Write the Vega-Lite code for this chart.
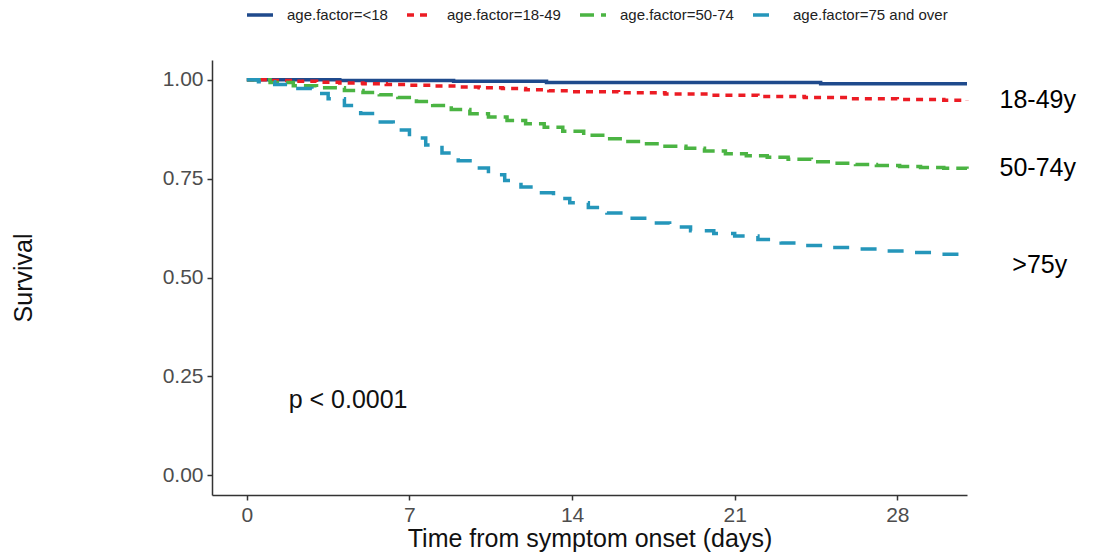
{
  "$schema": "https://vega.github.io/schema/vega-lite/v6.json",
  "width": 755,
  "height": 435,
  "autosize": {"type": "none"},
  "padding": {"left": 212, "top": 60, "right": 140, "bottom": 57},
  "background": "white",
  "config": {
    "view": {"stroke": null},
    "font": "Liberation Sans",
    "axis": {
      "grid": false,
      "domainColor": "#333333",
      "domainWidth": 1.5,
      "tickColor": "#333333",
      "tickWidth": 1.5,
      "tickSize": 5,
      "labelFont": "Liberation Sans",
      "labelFontSize": 21,
      "labelColor": "#4d4d4d",
      "labelPadding": 4,
      "titleFont": "Liberation Sans",
      "titleFontSize": 25,
      "titleFontWeight": "normal",
      "titleColor": "#111111"
    },
    "legend": {
      "orient": "none",
      "legendX": 33,
      "legendY": -60,
      "direction": "horizontal",
      "symbolType": "stroke",
      "symbolSize": 676,
      "symbolStrokeWidth": 3.5,
      "labelFont": "Liberation Sans",
      "labelFontSize": 15,
      "labelColor": "#222222",
      "labelOffset": 12,
      "columnPadding": 12
    }
  },
  "datasets": {
    "curves": [
      {"group": "age.factor=<18", "time": 0, "surv": 1.0},
      {"group": "age.factor=<18", "time": 4.0, "surv": 0.998},
      {"group": "age.factor=<18", "time": 8.9, "surv": 0.996},
      {"group": "age.factor=<18", "time": 12.9, "surv": 0.993},
      {"group": "age.factor=<18", "time": 24.7, "surv": 0.99},
      {"group": "age.factor=<18", "time": 31, "surv": 0.99},

      {"group": "age.factor=18-49", "time": 0, "surv": 1.0},
      {"group": "age.factor=18-49", "time": 1, "surv": 0.998},
      {"group": "age.factor=18-49", "time": 2, "surv": 0.996},
      {"group": "age.factor=18-49", "time": 3, "surv": 0.994},
      {"group": "age.factor=18-49", "time": 4, "surv": 0.992},
      {"group": "age.factor=18-49", "time": 5, "surv": 0.99},
      {"group": "age.factor=18-49", "time": 6, "surv": 0.988},
      {"group": "age.factor=18-49", "time": 7, "surv": 0.986},
      {"group": "age.factor=18-49", "time": 8, "surv": 0.984},
      {"group": "age.factor=18-49", "time": 9, "surv": 0.982},
      {"group": "age.factor=18-49", "time": 10, "surv": 0.98},
      {"group": "age.factor=18-49", "time": 11, "surv": 0.978},
      {"group": "age.factor=18-49", "time": 12, "surv": 0.975},
      {"group": "age.factor=18-49", "time": 13, "surv": 0.972},
      {"group": "age.factor=18-49", "time": 14, "surv": 0.97},
      {"group": "age.factor=18-49", "time": 16, "surv": 0.967},
      {"group": "age.factor=18-49", "time": 18, "surv": 0.964},
      {"group": "age.factor=18-49", "time": 20, "surv": 0.961},
      {"group": "age.factor=18-49", "time": 22, "surv": 0.958},
      {"group": "age.factor=18-49", "time": 24, "surv": 0.955},
      {"group": "age.factor=18-49", "time": 26, "surv": 0.952},
      {"group": "age.factor=18-49", "time": 28, "surv": 0.95},
      {"group": "age.factor=18-49", "time": 30, "surv": 0.948},
      {"group": "age.factor=18-49", "time": 31, "surv": 0.947},

      {"group": "age.factor=50-74", "time": 0, "surv": 1.0},
      {"group": "age.factor=50-74", "time": 1.0, "surv": 0.993},
      {"group": "age.factor=50-74", "time": 2.0, "surv": 0.985},
      {"group": "age.factor=50-74", "time": 3.0, "surv": 0.98},
      {"group": "age.factor=50-74", "time": 4.2, "surv": 0.973},
      {"group": "age.factor=50-74", "time": 5.0, "surv": 0.968},
      {"group": "age.factor=50-74", "time": 5.7, "surv": 0.962},
      {"group": "age.factor=50-74", "time": 6.5, "surv": 0.955},
      {"group": "age.factor=50-74", "time": 7.3, "surv": 0.945},
      {"group": "age.factor=50-74", "time": 8.0, "surv": 0.935},
      {"group": "age.factor=50-74", "time": 8.8, "surv": 0.925},
      {"group": "age.factor=50-74", "time": 9.6, "surv": 0.914},
      {"group": "age.factor=50-74", "time": 10.4, "surv": 0.906},
      {"group": "age.factor=50-74", "time": 11.2, "surv": 0.897},
      {"group": "age.factor=50-74", "time": 12.0, "surv": 0.889},
      {"group": "age.factor=50-74", "time": 12.8, "surv": 0.88},
      {"group": "age.factor=50-74", "time": 13.6, "surv": 0.87},
      {"group": "age.factor=50-74", "time": 14.5, "surv": 0.86},
      {"group": "age.factor=50-74", "time": 15.4, "surv": 0.851},
      {"group": "age.factor=50-74", "time": 16.2, "surv": 0.844},
      {"group": "age.factor=50-74", "time": 17.1, "surv": 0.838},
      {"group": "age.factor=50-74", "time": 18.0, "surv": 0.832},
      {"group": "age.factor=50-74", "time": 18.9, "surv": 0.827},
      {"group": "age.factor=50-74", "time": 19.7, "surv": 0.82},
      {"group": "age.factor=50-74", "time": 20.6, "surv": 0.813},
      {"group": "age.factor=50-74", "time": 21.5, "surv": 0.808},
      {"group": "age.factor=50-74", "time": 22.4, "surv": 0.804},
      {"group": "age.factor=50-74", "time": 23.3, "surv": 0.799},
      {"group": "age.factor=50-74", "time": 24.3, "surv": 0.793},
      {"group": "age.factor=50-74", "time": 25.2, "surv": 0.789},
      {"group": "age.factor=50-74", "time": 26.2, "surv": 0.786},
      {"group": "age.factor=50-74", "time": 27.1, "surv": 0.783},
      {"group": "age.factor=50-74", "time": 28.1, "surv": 0.781},
      {"group": "age.factor=50-74", "time": 29.0, "surv": 0.778},
      {"group": "age.factor=50-74", "time": 30.0, "surv": 0.776},
      {"group": "age.factor=50-74", "time": 31, "surv": 0.775},

      {"group": "age.factor=75 and over", "time": 0, "surv": 1.0},
      {"group": "age.factor=75 and over", "time": 0.5, "surv": 0.995},
      {"group": "age.factor=75 and over", "time": 1.2, "surv": 0.988},
      {"group": "age.factor=75 and over", "time": 2.0, "surv": 0.978},
      {"group": "age.factor=75 and over", "time": 2.8, "surv": 0.965},
      {"group": "age.factor=75 and over", "time": 3.5, "surv": 0.952},
      {"group": "age.factor=75 and over", "time": 4.2, "surv": 0.935},
      {"group": "age.factor=75 and over", "time": 4.9, "surv": 0.915},
      {"group": "age.factor=75 and over", "time": 5.6, "surv": 0.893},
      {"group": "age.factor=75 and over", "time": 6.3, "surv": 0.873},
      {"group": "age.factor=75 and over", "time": 7.0, "surv": 0.853},
      {"group": "age.factor=75 and over", "time": 7.7, "surv": 0.835},
      {"group": "age.factor=75 and over", "time": 8.4, "surv": 0.815},
      {"group": "age.factor=75 and over", "time": 9.1, "surv": 0.795},
      {"group": "age.factor=75 and over", "time": 9.7, "surv": 0.777},
      {"group": "age.factor=75 and over", "time": 10.4, "surv": 0.76},
      {"group": "age.factor=75 and over", "time": 11.1, "surv": 0.745},
      {"group": "age.factor=75 and over", "time": 11.8, "surv": 0.729},
      {"group": "age.factor=75 and over", "time": 12.5, "surv": 0.714},
      {"group": "age.factor=75 and over", "time": 13.2, "surv": 0.7},
      {"group": "age.factor=75 and over", "time": 13.9, "surv": 0.689},
      {"group": "age.factor=75 and over", "time": 14.7, "surv": 0.677},
      {"group": "age.factor=75 and over", "time": 15.5, "surv": 0.663},
      {"group": "age.factor=75 and over", "time": 16.4, "surv": 0.65},
      {"group": "age.factor=75 and over", "time": 17.3, "surv": 0.638},
      {"group": "age.factor=75 and over", "time": 18.2, "surv": 0.628},
      {"group": "age.factor=75 and over", "time": 19.1, "surv": 0.618},
      {"group": "age.factor=75 and over", "time": 20.1, "surv": 0.611},
      {"group": "age.factor=75 and over", "time": 21.0, "surv": 0.605},
      {"group": "age.factor=75 and over", "time": 22.0, "surv": 0.596},
      {"group": "age.factor=75 and over", "time": 23.0, "surv": 0.587},
      {"group": "age.factor=75 and over", "time": 24.0, "surv": 0.581},
      {"group": "age.factor=75 and over", "time": 25.0, "surv": 0.576},
      {"group": "age.factor=75 and over", "time": 26.2, "surv": 0.572},
      {"group": "age.factor=75 and over", "time": 27.4, "surv": 0.567},
      {"group": "age.factor=75 and over", "time": 28.7, "surv": 0.563},
      {"group": "age.factor=75 and over", "time": 29.9, "surv": 0.559},
      {"group": "age.factor=75 and over", "time": 31, "surv": 0.557}
    ],
    "notes": [
      {"kind": "p", "label": "p < 0.0001", "time": 1.8, "surv": 0.19},
      {"kind": "age", "label": "18-49y", "time": 32.4, "surv": 0.949},
      {"kind": "age", "label": "50-74y", "time": 32.4, "surv": 0.777},
      {"kind": "age", "label": ">75y", "time": 32.95, "surv": 0.532}
    ]
  },
  "layer": [
    {
      "data": {"name": "curves"},
      "mark": {"type": "line", "interpolate": "step-after", "strokeWidth": 3.5},
      "encoding": {
        "x": {
          "field": "time", "type": "quantitative",
          "scale": {"domain": [-1.5, 31], "nice": false, "zero": false},
          "axis": {"values": [0, 7, 14, 21, 28], "title": "Time from symptom onset (days)", "titlePadding": 1}
        },
        "y": {
          "field": "surv", "type": "quantitative",
          "scale": {"domain": [-0.05, 1.05], "nice": false},
          "axis": {"values": [0, 0.25, 0.5, 0.75, 1], "format": ".2f", "title": "Survival", "titlePadding": 126}
        },
        "color": {
          "field": "group", "type": "nominal", "title": null,
          "scale": {
            "domain": ["age.factor=<18", "age.factor=18-49", "age.factor=50-74", "age.factor=75 and over"],
            "range": ["#1f4a8c", "#ec1c24", "#4bb443", "#2596ba"]
          }
        },
        "strokeDash": {
          "field": "group", "type": "nominal", "title": null,
          "scale": {
            "domain": ["age.factor=<18", "age.factor=18-49", "age.factor=50-74", "age.factor=75 and over"],
            "range": [[1, 0], [7, 6], [14, 7], [16, 13]]
          }
        }
      }
    },
    {
      "data": {"name": "notes"},
      "transform": [{"filter": "datum.kind === 'p'"}],
      "mark": {"type": "text", "align": "left", "baseline": "middle", "fontSize": 25, "font": "Liberation Sans", "color": "#111111"},
      "encoding": {
        "x": {"field": "time", "type": "quantitative"},
        "y": {"field": "surv", "type": "quantitative"},
        "text": {"field": "label"}
      }
    },
    {
      "data": {"name": "notes"},
      "transform": [{"filter": "datum.kind === 'age'"}],
      "mark": {"type": "text", "align": "left", "baseline": "middle", "fontSize": 25, "font": "Liberation Sans", "color": "#000000"},
      "encoding": {
        "x": {"field": "time", "type": "quantitative"},
        "y": {"field": "surv", "type": "quantitative"},
        "text": {"field": "label"}
      }
    }
  ]
}
